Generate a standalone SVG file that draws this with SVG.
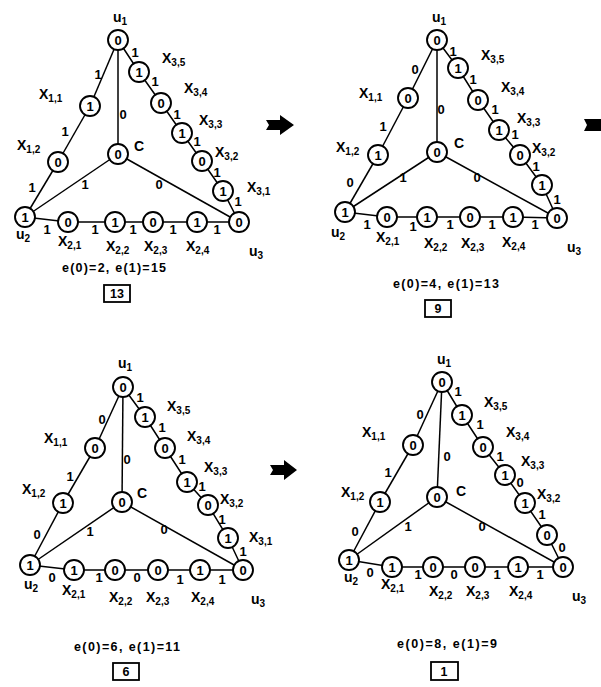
<svg xmlns="http://www.w3.org/2000/svg" width="601" height="687" viewBox="0 0 601 687">
<style>
.e{stroke:#000;stroke-width:1.5;fill:none}
.n circle{fill:#fff;stroke:#000;stroke-width:1.9}
.n text{font-family:"Liberation Sans",Arial,sans-serif;font-weight:bold;font-size:13px;text-anchor:middle}
.l{font-family:"Liberation Sans",Arial,sans-serif;font-weight:bold;font-size:13px;text-anchor:middle}
.v{font-family:"Liberation Sans",Arial,sans-serif;font-weight:bold;font-size:14px}
.s{font-size:10px}
.cap{font-family:"Liberation Sans",Arial,sans-serif;font-weight:bold;font-size:12.5px;text-anchor:middle}
.box{fill:#fff;stroke:#000;stroke-width:1.8}
.arr{fill:#000}
</style>
<rect width="601" height="687" fill="#fff"/>

<!-- ================= PANEL 1 ================= -->
<g id="panel1">
<g id="p1-connectors">
<line class="e" x1="118" y1="40" x2="90" y2="106"/>
<line class="e" x1="90" y1="106" x2="58" y2="162"/>
<line class="e" x1="58" y1="162" x2="25" y2="217"/>
<line class="e" x1="118" y1="40" x2="118" y2="154"/>
<line class="e" x1="118" y1="154" x2="25" y2="217"/>
<line class="e" x1="118" y1="154" x2="239" y2="222"/>
<polyline class="e" points="118,40 139,72 161,103 182,133 202,161 223,191 239,222"/>
<polyline class="e" points="25,217 68,222 115,222 153,222 197,222 239,222"/>
<text class="l" x="98" y="79">1</text>
<text class="l" x="65" y="136">1</text>
<text class="l" x="32" y="192">1</text>
<text class="l" x="123" y="119">0</text>
<text class="l" x="85" y="189">1</text>
<text class="l" x="159" y="189">0</text>
<text class="l" x="135" y="57">1</text>
<text class="l" x="155" y="86">1</text>
<text class="l" x="177" y="119">1</text>
<text class="l" x="197" y="146">1</text>
<text class="l" x="217" y="177">1</text>
<text class="l" x="238" y="206">1</text>
<text class="l" x="47" y="234">1</text>
<text class="l" x="95" y="234">1</text>
<text class="l" x="133" y="234">1</text>
<text class="l" x="173" y="234">1</text>
<text class="l" x="217" y="234">1</text>
</g>
<g id="p1-u1" class="n"><circle cx="118" cy="40" r="10"/><text x="118" y="44.5">0</text></g>
<g id="p1-x11" class="n"><circle cx="90" cy="106" r="10"/><text x="90" y="110.5">1</text></g>
<g id="p1-x12" class="n"><circle cx="58" cy="162" r="10"/><text x="58" y="166.5">0</text></g>
<g id="p1-u2" class="n"><circle cx="25" cy="217" r="10"/><text x="25" y="221.5">1</text></g>
<g id="p1-c" class="n"><circle cx="118" cy="154" r="10"/><text x="118" y="158.5">0</text></g>
<g id="p1-x35" class="n"><circle cx="139" cy="72" r="10"/><text x="139" y="76.5">1</text></g>
<g id="p1-x34" class="n"><circle cx="161" cy="103" r="10"/><text x="161" y="107.5">0</text></g>
<g id="p1-x33" class="n"><circle cx="182" cy="133" r="10"/><text x="182" y="137.5">1</text></g>
<g id="p1-x32" class="n"><circle cx="202" cy="161" r="10"/><text x="202" y="165.5">0</text></g>
<g id="p1-x31" class="n"><circle cx="223" cy="191" r="10"/><text x="223" y="195.5">1</text></g>
<g id="p1-u3" class="n"><circle cx="239" cy="222" r="10"/><text x="239" y="226.5">0</text></g>
<g id="p1-x21" class="n"><circle cx="68" cy="222" r="10"/><text x="68" y="226.5">0</text></g>
<g id="p1-x22" class="n"><circle cx="115" cy="222" r="10"/><text x="115" y="226.5">1</text></g>
<g id="p1-x23" class="n"><circle cx="153" cy="222" r="10"/><text x="153" y="226.5">0</text></g>
<g id="p1-x24" class="n"><circle cx="197" cy="222" r="10"/><text x="197" y="226.5">1</text></g>
<text class="v" x="113" y="22">u<tspan class="s" dy="3">1</tspan></text>
<text class="v" x="39" y="99">X<tspan class="s" dy="3">1,1</tspan></text>
<text class="v" x="17" y="150">X<tspan class="s" dy="3">1,2</tspan></text>
<text class="v" x="134" y="151">C</text>
<text class="v" x="162" y="63">X<tspan class="s" dy="3">3,5</tspan></text>
<text class="v" x="184" y="93">X<tspan class="s" dy="3">3,4</tspan></text>
<text class="v" x="199" y="125">X<tspan class="s" dy="3">3,3</tspan></text>
<text class="v" x="215" y="157">X<tspan class="s" dy="3">3,2</tspan></text>
<text class="v" x="247" y="192">X<tspan class="s" dy="3">3,1</tspan></text>
<text class="v" x="16" y="239">u<tspan class="s" dy="3">2</tspan></text>
<text class="v" x="58" y="246">X<tspan class="s" dy="3">2,1</tspan></text>
<text class="v" x="106" y="251">X<tspan class="s" dy="3">2,2</tspan></text>
<text class="v" x="144" y="251">X<tspan class="s" dy="3">2,3</tspan></text>
<text class="v" x="186" y="251">X<tspan class="s" dy="3">2,4</tspan></text>
<text class="v" x="249" y="256">u<tspan class="s" dy="3">3</tspan></text>
<text class="cap" x="114" y="272" textLength="104" lengthAdjust="spacing">e(0)=2, e(1)=15</text>
<rect class="box" x="104" y="285" width="26" height="17"/>
<text class="cap" x="117" y="298">13</text>
</g>

<!-- ================= PANEL 2 ================= -->
<g id="panel2">
<g id="p2-connectors">
<line class="e" x1="437" y1="40" x2="408" y2="98"/>
<line class="e" x1="408" y1="98" x2="378" y2="155"/>
<line class="e" x1="378" y1="155" x2="345" y2="212"/>
<line class="e" x1="437" y1="40" x2="437" y2="152"/>
<line class="e" x1="437" y1="152" x2="345" y2="212"/>
<line class="e" x1="437" y1="152" x2="557" y2="218"/>
<polyline class="e" points="437,40 458,68 478,100 499,130 520,155 542,185 557,218"/>
<polyline class="e" points="345,212 387,217 427,217 470,217 513,217 557,218"/>
<text class="l" x="415" y="74">0</text>
<text class="l" x="383" y="131">1</text>
<text class="l" x="350" y="187">0</text>
<text class="l" x="441" y="114">0</text>
<text class="l" x="403" y="182">1</text>
<text class="l" x="477" y="182">0</text>
<text class="l" x="453" y="56">1</text>
<text class="l" x="473" y="84">1</text>
<text class="l" x="495" y="114">1</text>
<text class="l" x="515" y="139">1</text>
<text class="l" x="536" y="171">1</text>
<text class="l" x="557" y="204">1</text>
<text class="l" x="367" y="229">1</text>
<text class="l" x="413" y="231">1</text>
<text class="l" x="450" y="229">1</text>
<text class="l" x="492" y="229">1</text>
<text class="l" x="535" y="229">1</text>
</g>
<g id="p2-u1" class="n"><circle cx="437" cy="40" r="10"/><text x="437" y="44.5">0</text></g>
<g id="p2-x11" class="n"><circle cx="408" cy="98" r="10"/><text x="408" y="102.5">0</text></g>
<g id="p2-x12" class="n"><circle cx="378" cy="155" r="10"/><text x="378" y="159.5">1</text></g>
<g id="p2-u2" class="n"><circle cx="345" cy="212" r="10"/><text x="345" y="216.5">1</text></g>
<g id="p2-c" class="n"><circle cx="437" cy="152" r="10"/><text x="437" y="156.5">0</text></g>
<g id="p2-x35" class="n"><circle cx="458" cy="68" r="10"/><text x="458" y="72.5">1</text></g>
<g id="p2-x34" class="n"><circle cx="478" cy="100" r="10"/><text x="478" y="104.5">0</text></g>
<g id="p2-x33" class="n"><circle cx="499" cy="130" r="10"/><text x="499" y="134.5">1</text></g>
<g id="p2-x32" class="n"><circle cx="520" cy="155" r="10"/><text x="520" y="159.5">0</text></g>
<g id="p2-x31" class="n"><circle cx="542" cy="185" r="10"/><text x="542" y="189.5">1</text></g>
<g id="p2-u3" class="n"><circle cx="557" cy="218" r="10"/><text x="557" y="222.5">0</text></g>
<g id="p2-x21" class="n"><circle cx="387" cy="217" r="10"/><text x="387" y="221.5">0</text></g>
<g id="p2-x22" class="n"><circle cx="427" cy="217" r="10"/><text x="427" y="221.5">1</text></g>
<g id="p2-x23" class="n"><circle cx="470" cy="217" r="10"/><text x="470" y="221.5">0</text></g>
<g id="p2-x24" class="n"><circle cx="513" cy="217" r="10"/><text x="513" y="221.5">1</text></g>
<text class="v" x="432" y="22">u<tspan class="s" dy="3">1</tspan></text>
<text class="v" x="359" y="98">X<tspan class="s" dy="3">1,1</tspan></text>
<text class="v" x="336" y="152">X<tspan class="s" dy="3">1,2</tspan></text>
<text class="v" x="454" y="148">C</text>
<text class="v" x="481" y="60">X<tspan class="s" dy="3">3,5</tspan></text>
<text class="v" x="501" y="92">X<tspan class="s" dy="3">3,4</tspan></text>
<text class="v" x="517" y="123">X<tspan class="s" dy="3">3,3</tspan></text>
<text class="v" x="532" y="153">X<tspan class="s" dy="3">3,2</tspan></text>
<text class="v" x="331" y="237">u<tspan class="s" dy="3">2</tspan></text>
<text class="v" x="376" y="242">X<tspan class="s" dy="3">2,1</tspan></text>
<text class="v" x="424" y="248">X<tspan class="s" dy="3">2,2</tspan></text>
<text class="v" x="461" y="248">X<tspan class="s" dy="3">2,3</tspan></text>
<text class="v" x="502" y="247">X<tspan class="s" dy="3">2,4</tspan></text>
<text class="v" x="567" y="252">u<tspan class="s" dy="3">3</tspan></text>
<text class="cap" x="446" y="288" textLength="106" lengthAdjust="spacing">e(0)=4, e(1)=13</text>
<rect class="box" x="425" y="300" width="26" height="17"/>
<text class="cap" x="438" y="313">9</text>
</g>

<!-- ================= PANEL 3 ================= -->
<g id="panel3">
<g id="p3-connectors">
<line class="e" x1="123" y1="387" x2="95" y2="448"/>
<line class="e" x1="95" y1="448" x2="63" y2="503"/>
<line class="e" x1="63" y1="503" x2="30" y2="565"/>
<line class="e" x1="123" y1="387" x2="122" y2="502"/>
<line class="e" x1="122" y1="502" x2="30" y2="565"/>
<line class="e" x1="122" y1="502" x2="243" y2="570"/>
<polyline class="e" points="123,387 145,417 165,448 187,482 208,505 228,538 243,570"/>
<polyline class="e" points="30,565 74,570 115,570 158,570 200,570 243,570"/>
<text class="l" x="102" y="424">0</text>
<text class="l" x="70" y="481">1</text>
<text class="l" x="37" y="539">0</text>
<text class="l" x="127" y="464">0</text>
<text class="l" x="90" y="536">1</text>
<text class="l" x="164" y="534">0</text>
<text class="l" x="140" y="402">1</text>
<text class="l" x="162" y="432">1</text>
<text class="l" x="182" y="464">1</text>
<text class="l" x="202" y="491">1</text>
<text class="l" x="222" y="524">1</text>
<text class="l" x="243" y="556">1</text>
<text class="l" x="52" y="582">0</text>
<text class="l" x="99" y="582">1</text>
<text class="l" x="137" y="582">0</text>
<text class="l" x="180" y="584">1</text>
<text class="l" x="222" y="584">1</text>
</g>
<g id="p3-u1" class="n"><circle cx="123" cy="387" r="10"/><text x="123" y="391.5">0</text></g>
<g id="p3-x11" class="n"><circle cx="95" cy="448" r="10"/><text x="95" y="452.5">0</text></g>
<g id="p3-x12" class="n"><circle cx="63" cy="503" r="10"/><text x="63" y="507.5">1</text></g>
<g id="p3-u2" class="n"><circle cx="30" cy="565" r="10"/><text x="30" y="569.5">1</text></g>
<g id="p3-c" class="n"><circle cx="122" cy="502" r="10"/><text x="122" y="506.5">0</text></g>
<g id="p3-x35" class="n"><circle cx="145" cy="417" r="10"/><text x="145" y="421.5">1</text></g>
<g id="p3-x34" class="n"><circle cx="165" cy="448" r="10"/><text x="165" y="452.5">0</text></g>
<g id="p3-x33" class="n"><circle cx="187" cy="482" r="10"/><text x="187" y="486.5">1</text></g>
<g id="p3-x32" class="n"><circle cx="208" cy="505" r="10"/><text x="208" y="509.5">0</text></g>
<g id="p3-x31" class="n"><circle cx="228" cy="538" r="10"/><text x="228" y="542.5">1</text></g>
<g id="p3-u3" class="n"><circle cx="243" cy="570" r="10"/><text x="243" y="574.5">0</text></g>
<g id="p3-x21" class="n"><circle cx="74" cy="570" r="10"/><text x="74" y="574.5">1</text></g>
<g id="p3-x22" class="n"><circle cx="115" cy="570" r="10"/><text x="115" y="574.5">0</text></g>
<g id="p3-x23" class="n"><circle cx="158" cy="570" r="10"/><text x="158" y="574.5">0</text></g>
<g id="p3-x24" class="n"><circle cx="200" cy="570" r="10"/><text x="200" y="574.5">1</text></g>
<text class="v" x="118" y="368">u<tspan class="s" dy="3">1</tspan></text>
<text class="v" x="44" y="443">X<tspan class="s" dy="3">1,1</tspan></text>
<text class="v" x="22" y="494">X<tspan class="s" dy="3">1,2</tspan></text>
<text class="v" x="137" y="498">C</text>
<text class="v" x="167" y="411">X<tspan class="s" dy="3">3,5</tspan></text>
<text class="v" x="187" y="441">X<tspan class="s" dy="3">3,4</tspan></text>
<text class="v" x="204" y="472">X<tspan class="s" dy="3">3,3</tspan></text>
<text class="v" x="220" y="504">X<tspan class="s" dy="3">3,2</tspan></text>
<text class="v" x="249" y="542">X<tspan class="s" dy="3">3,1</tspan></text>
<text class="v" x="24" y="589">u<tspan class="s" dy="3">2</tspan></text>
<text class="v" x="62" y="595">X<tspan class="s" dy="3">2,1</tspan></text>
<text class="v" x="109" y="602">X<tspan class="s" dy="3">2,2</tspan></text>
<text class="v" x="146" y="602">X<tspan class="s" dy="3">2,3</tspan></text>
<text class="v" x="191" y="602">X<tspan class="s" dy="3">2,4</tspan></text>
<text class="v" x="251" y="604">u<tspan class="s" dy="3">3</tspan></text>
<text class="cap" x="127" y="651" textLength="106" lengthAdjust="spacing">e(0)=6, e(1)=11</text>
<rect class="box" x="113" y="663" width="26" height="17"/>
<text class="cap" x="126" y="676">6</text>
</g>

<!-- ================= PANEL 4 ================= -->
<g id="panel4">
<g id="p4-connectors">
<line class="e" x1="442" y1="382" x2="413" y2="445"/>
<line class="e" x1="413" y1="445" x2="380" y2="502"/>
<line class="e" x1="380" y1="502" x2="349" y2="560"/>
<line class="e" x1="442" y1="382" x2="437" y2="497"/>
<line class="e" x1="437" y1="497" x2="349" y2="560"/>
<line class="e" x1="437" y1="497" x2="563" y2="567"/>
<polyline class="e" points="442,382 462,415 483,447 505,475 525,503 547,535 563,567"/>
<polyline class="e" points="349,560 392,567 433,567 475,567 518,567 563,567"/>
<text class="l" x="420" y="419">0</text>
<text class="l" x="388" y="477">1</text>
<text class="l" x="355" y="536">0</text>
<text class="l" x="447" y="461">0</text>
<text class="l" x="408" y="531">1</text>
<text class="l" x="482" y="531">0</text>
<text class="l" x="458" y="396">1</text>
<text class="l" x="480" y="429">1</text>
<text class="l" x="500" y="461">1</text>
<text class="l" x="520" y="487">0</text>
<text class="l" x="542" y="519">1</text>
<text class="l" x="562" y="552">0</text>
<text class="l" x="370" y="577">0</text>
<text class="l" x="418" y="579">1</text>
<text class="l" x="454" y="579">0</text>
<text class="l" x="497" y="579">1</text>
<text class="l" x="540" y="579">1</text>
</g>
<g id="p4-u1" class="n"><circle cx="442" cy="382" r="10"/><text x="442" y="386.5">0</text></g>
<g id="p4-x11" class="n"><circle cx="413" cy="445" r="10"/><text x="413" y="449.5">0</text></g>
<g id="p4-x12" class="n"><circle cx="380" cy="502" r="10"/><text x="380" y="506.5">1</text></g>
<g id="p4-u2" class="n"><circle cx="349" cy="560" r="10"/><text x="349" y="564.5">1</text></g>
<g id="p4-c" class="n"><circle cx="437" cy="497" r="10"/><text x="437" y="501.5">0</text></g>
<g id="p4-x35" class="n"><circle cx="462" cy="415" r="10"/><text x="462" y="419.5">1</text></g>
<g id="p4-x34" class="n"><circle cx="483" cy="447" r="10"/><text x="483" y="451.5">0</text></g>
<g id="p4-x33" class="n"><circle cx="505" cy="475" r="10"/><text x="505" y="479.5">1</text></g>
<g id="p4-x32" class="n"><circle cx="525" cy="503" r="10"/><text x="525" y="507.5">1</text></g>
<g id="p4-x31" class="n"><circle cx="547" cy="535" r="10"/><text x="547" y="539.5">0</text></g>
<g id="p4-u3" class="n"><circle cx="563" cy="567" r="10"/><text x="563" y="571.5">0</text></g>
<g id="p4-x21" class="n"><circle cx="392" cy="567" r="10"/><text x="392" y="571.5">1</text></g>
<g id="p4-x22" class="n"><circle cx="433" cy="567" r="10"/><text x="433" y="571.5">0</text></g>
<g id="p4-x23" class="n"><circle cx="475" cy="567" r="10"/><text x="475" y="571.5">0</text></g>
<g id="p4-x24" class="n"><circle cx="518" cy="567" r="10"/><text x="518" y="571.5">1</text></g>
<text class="v" x="437" y="364">u<tspan class="s" dy="3">1</tspan></text>
<text class="v" x="362" y="437">X<tspan class="s" dy="3">1,1</tspan></text>
<text class="v" x="341" y="497">X<tspan class="s" dy="3">1,2</tspan></text>
<text class="v" x="456" y="496">C</text>
<text class="v" x="484" y="407">X<tspan class="s" dy="3">3,5</tspan></text>
<text class="v" x="506" y="437">X<tspan class="s" dy="3">3,4</tspan></text>
<text class="v" x="521" y="466">X<tspan class="s" dy="3">3,3</tspan></text>
<text class="v" x="537" y="499">X<tspan class="s" dy="3">3,2</tspan></text>
<text class="v" x="344" y="582">u<tspan class="s" dy="3">2</tspan></text>
<text class="v" x="381" y="589">X<tspan class="s" dy="3">2,1</tspan></text>
<text class="v" x="429" y="596">X<tspan class="s" dy="3">2,2</tspan></text>
<text class="v" x="466" y="596">X<tspan class="s" dy="3">2,3</tspan></text>
<text class="v" x="509" y="596">X<tspan class="s" dy="3">2,4</tspan></text>
<text class="v" x="572" y="601">u<tspan class="s" dy="3">3</tspan></text>
<text class="cap" x="447" y="648" textLength="100" lengthAdjust="spacing">e(0)=8, e(1)=9</text>
<rect class="box" x="431" y="662" width="27" height="18"/>
<text class="cap" x="444" y="676">1</text>
</g>

<!-- ================= ARROWS ================= -->
<g id="arrows">
<polygon class="arr" points="266,120 280,120 280,115 294,125 280,135 280,130 266,130 269,125"/>
<polygon class="arr" points="584,119 601,119 601,131 584,131 587,125"/>
<polygon class="arr" points="270,465 284,465 284,460 297,470 284,480 284,475 270,475 273,470"/>
</g>
</svg>
